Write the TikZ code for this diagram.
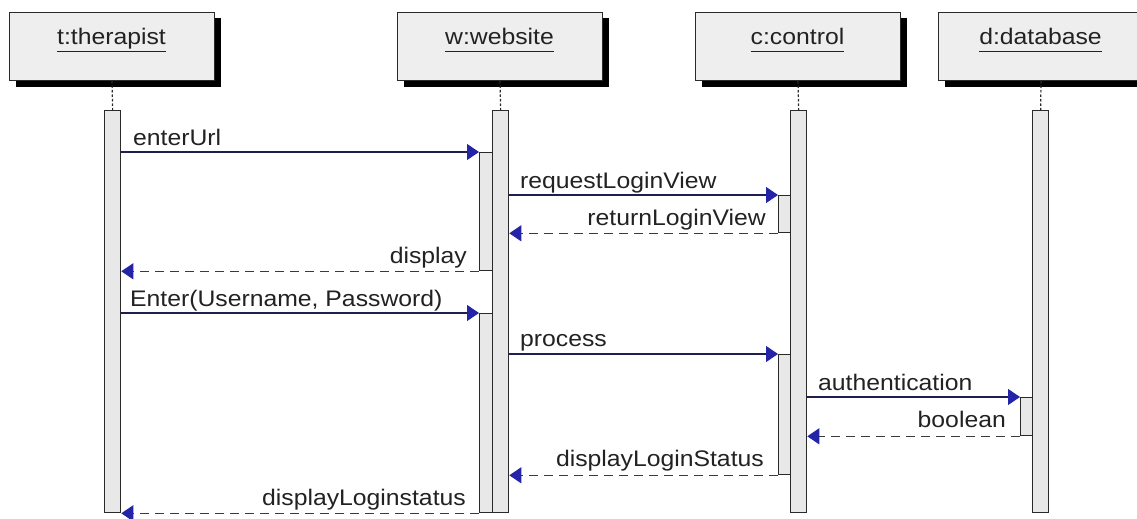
\documentclass[tikz,border=0pt]{standalone}
\usepackage{fontspec}
\setmainfont{Liberation Sans}[FakeStretch=1.1]
\usetikzlibrary{shadows,arrows.meta}
\definecolor{boxfill}{HTML}{EEEEEE}
\definecolor{barfill}{HTML}{E8E8E8}
\definecolor{edge}{HTML}{2A2A2A}
\definecolor{msgline}{HTML}{1E1E50}
\definecolor{tipblue}{HTML}{2424A8}
\definecolor{retline}{HTML}{3A3A3A}
\definecolor{textcol}{HTML}{222222}
\newcommand\hdrul[1]{\underline{#1\vphantom{p}}}
\begin{document}
\begin{tikzpicture}[x=1pt,y=-1pt,
  txt/.style={font=\fontsize{22.5}{27}\selectfont, text=textcol, inner sep=0pt},
  head/.style={draw=edge, line width=1pt, fill=boxfill, minimum width=205pt, minimum height=68pt, inner sep=0pt, anchor=north west,
    drop shadow={shadow xshift=6pt, shadow yshift=-6pt, fill=black, opacity=1}},
  bar/.style={draw=edge, line width=1.3pt, fill=barfill, inner sep=0pt, anchor=north west, minimum width=16pt},
  nest/.style={draw=edge, line width=1.3pt, fill=barfill, inner sep=0pt, anchor=north west},
  life/.style={draw=edge, line width=1.2pt, dash pattern=on 2.5pt off 2pt},
  tip/.style={-{Triangle[length=12pt,width=16pt,color=tipblue,fill=tipblue]}},
  call/.style={draw=msgline, line width=1.1pt, tip},
  ret/.style={draw=retline, line width=1.1pt, dash pattern=on 9pt off 6pt, tip}
]
\clip (0,0) rectangle (1137,519);
\fill[white] (0,0) rectangle (1137,519);
% headers
\node[head] (th) at (9,12) {};
\node[head] (wh) at (397,12) {};
\node[head] (ch) at (695,12) {};
\node[head] (dh) at (938,12) {};
\node[txt, anchor=base] (thl) at (111.5,45) {\hdrul{t:therapist}};
\node[txt, anchor=base] (whl) at (499.5,45) {\hdrul{w:website}};
\node[txt, anchor=base] (chl) at (797.5,45) {\hdrul{c:control}};
\node[txt, anchor=base] (dhl) at (1040.5,45) {\hdrul{d:database}};
% activation bars
\node[bar, minimum height=402pt] (tb) at (104,110) {};
\node[bar, minimum height=402pt] (wb) at (492,110) {};
\node[bar, minimum height=402pt] (cb) at (790,110) {};
\node[bar, minimum height=402pt] (db) at (1032,110) {};
% lifelines
\draw[life] (th.south) -- (tb.north);
\draw[life] (wh.south) -- (wb.north);
\draw[life] (ch.south) -- (cb.north);
\draw[life] (dh.south) -- (db.north);
% nested activations
\node[nest, minimum width=13pt, minimum height=118pt] (wn1) at (479,152) {};
\node[nest, minimum width=13pt, minimum height=199pt] (wn2) at (479,313) {};
\node[nest, minimum width=12pt, minimum height=37pt] (cn1) at (778,195) {};
\node[nest, minimum width=12pt, minimum height=120pt] (cn2) at (778,354) {};
\node[nest, minimum width=12pt, minimum height=38pt] (dn1) at (1020,397) {};
% messages
\draw[call] (tb.east |- wn1.north) -- (wn1.north west);
\draw[call] (wb.east |- cn1.north) -- (cn1.north west);
\draw[ret] (cn1.south west) -- (wb.east |- cn1.south);
\draw[ret] (wn1.south west) -- (tb.east |- wn1.south);
\draw[call] (tb.east |- wn2.north) -- (wn2.north west);
\draw[call] (wb.east |- cn2.north) -- (cn2.north west);
\draw[call] (cb.east |- dn1.north) -- (dn1.north west);
\draw[ret] (dn1.south west) -- (cb.east |- dn1.south);
\draw[ret] (cn2.south west) -- (wb.east |- cn2.south);
\draw[ret] (wn2.south west) -- (tb.east |- wn2.south);
% labels
\node[txt, anchor=base west] (l1) at (133,145) {enterUrl};
\node[txt, anchor=base west] (l2) at (520,188) {requestLoginView};
\node[txt, anchor=base east] (l3) at (766,225) {returnLoginView};
\node[txt, anchor=base east] (l4) at (467,263) {display};
\node[txt, anchor=base west] (l5) at (130,306) {Enter(Username, Password)};
\node[txt, anchor=base west] (l6) at (520,346) {process};
\node[txt, anchor=base west] (l7) at (818,390) {authentication};
\node[txt, anchor=base east] (l8) at (1006,427) {boolean};
\node[txt, anchor=base east] (l9) at (764,466) {displayLoginStatus};
\node[txt, anchor=base east] (l10) at (466,505) {displayLoginstatus};
\end{tikzpicture}
\end{document}
